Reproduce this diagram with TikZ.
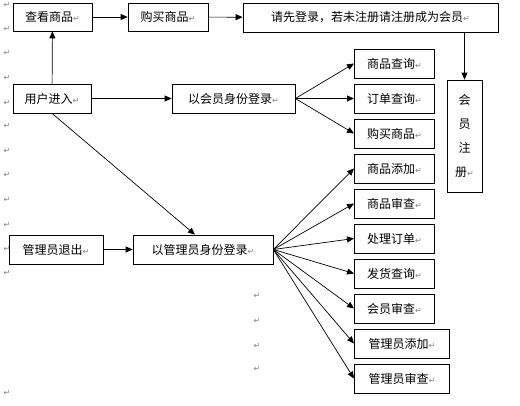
\documentclass[tikz,border=0pt]{standalone}
\usepackage{fontspec}
\setmainfont{Noto Sans CJK SC}
\newfontfamily\retfont{DejaVu Sans}
\usetikzlibrary{arrows.meta}
\newcommand\retmark{{\retfont\fontsize{8}{8}\selectfont\color{gray}↵}}

\begin{document}
\begin{tikzpicture}[x=1pt,y=-1pt,line width=0.7pt,>={Triangle[length=7pt,width=6pt]}]
    \tikzstyle{box}=[rectangle,draw=black,fill=white,inner sep=0pt,minimum height=29pt,font=\fontsize{12}{14}\selectfont]
    \tikzstyle{retnode}=[inner sep=0pt]
    \useasboundingbox (0,0) rectangle (520,405);

    % paragraph marks
    \foreach \y in {5,29,53,78,103,126,151,175,200,225,249,273,393}
        \node[retnode] (l-\y) at (7,\y) {\retmark};
    \foreach \y in {296,321,346,369}
        \node[retnode] (c-\y) at (257,\y) {\retmark};

    \node[box,minimum width=79pt,minimum height=28pt] (look) at (52.5,17) {查看商品\retmark};
    \node[box,minimum width=80pt,minimum height=28pt] (buy) at (168,17) {购买商品\retmark};
    \node[box,minimum width=255pt] (hint) at (370.5,17.5) {请先登录，若未注册请注册成为会员\retmark};
    \node[box,minimum width=78pt] (user) at (52,98.5) {用户进入\retmark};
    \node[box,minimum width=123pt] (mlogin) at (233.5,98.5) {以会员身份登录\retmark};
    \node[box,minimum width=94pt] (aquit) at (56,249.5) {管理员退出\retmark};
    \node[box,minimum width=140pt] (alogin) at (203,249.5) {以管理员身份登录\retmark};
    \node[box,minimum width=35pt,minimum height=112pt,align=center,font=\fontsize{12}{24}\selectfont] (reg) at (464.5,136) {会\\员\\注\\册\retmark};

    \foreach \name/\txt/\y in {mq/商品查询/63.5, oq/订单查询/98.5, mb/购买商品/133.5}
        \node[box,minimum width=80pt,anchor=west] (\name) at (354,\y) {\txt\retmark};
    \foreach \name/\txt/\y/\w in {ga/商品添加/168.5/80, gc/商品审查/203.5/80, po/处理订单/238.5/80,
                                  sq/发货查询/273.5/80, mc/会员审查/308.5/80, aa/管理员添加/343.5/95, ac/管理员审查/378.5/95}
        \node[box,minimum width=\w pt,anchor=west] (\name) at (354,\y) {\txt\retmark};

    \draw[->] (look) -- (buy);
    \draw[->] (buy) -- (hint);
    \draw[->] (hint.south -| reg.north) -- (reg.north);
    \draw[->] (user) -- (look);
    \draw[->] (user) -- (mlogin);
    \draw[->] (user.south) -- ([xshift=-8pt]alogin.north);
    \draw[->] (aquit) -- (alogin);

    \foreach \to in {mq,oq,mb}
        \draw[->] (mlogin.east) -- (\to.west);
    \foreach \to in {ga,gc,po,sq,mc,aa,ac}
        \draw[->] (alogin.east) -- (\to.west);
\end{tikzpicture}
\end{document}
